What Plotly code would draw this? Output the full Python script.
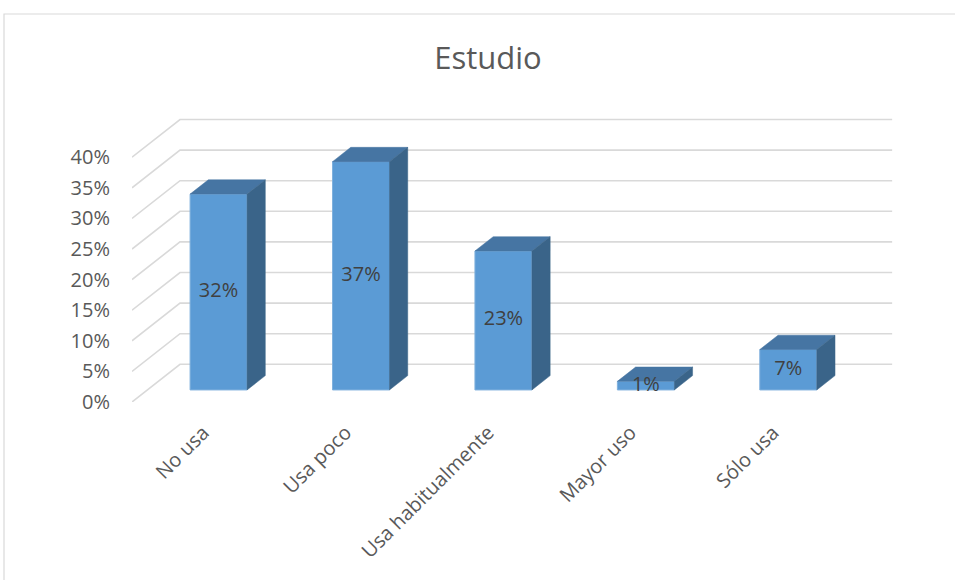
import plotly.graph_objects as go

# ---- data ----
categories = ["No usa", "Usa poco", "Usa habitualmente", "Mayor uso", "Sólo usa"]
values = [0.32, 0.373, 0.227, 0.014, 0.066]
y_ticks = [0, 0.05, 0.10, 0.15, 0.20, 0.25, 0.30, 0.35, 0.40]
y_tick_labels = ["0%", "5%", "10%", "15%", "20%", "25%", "30%", "35%", "40%"]
title_text = "Estudio"

# ---- pseudo-3D projection parameters (axis units) ----
DX = 0.337   # depth shift in x (category units) for full depth
DY = 0.0616  # depth shift in y (value units) for full depth
D0, D1 = 0.32, 0.70   # bar front / back depth fraction
BW = 0.40             # bar width (category units)

FONT = "Open Sans"
FRONT = "#5B9BD5"
TOP = "#4675A3"
SIDE = "#3A6489"
GRID = "#D9D9D9"

fig = go.Figure()

# back wall + side wall gridlines
gx, gy = [], []
x_left = -0.5
x_right = len(categories) - 0.5
for v in y_ticks:
    gx += [x_left, x_left + DX, x_right + DX, None]
    gy += [v, v + DY, v + DY, None]
fig.add_trace(go.Scatter(x=gx, y=gy, mode="lines",
                         line=dict(color=GRID, width=1.6),
                         hoverinfo="skip", showlegend=False))

ddx = (D1 - D0) * DX
ddy = (D1 - D0) * DY
label_x, label_y, label_t = [], [], []
for i, v in enumerate(values):
    xc = i + D0 * DX
    b0 = D0 * DY
    xl, xr = xc - BW / 2, xc + BW / 2
    # front face
    fig.add_trace(go.Scatter(
        x=[xl, xl, xr, xr, xl],
        y=[b0, b0 + v, b0 + v, b0, b0],
        mode="lines", fill="toself", fillcolor=FRONT,
        line=dict(color="#7FB0DD", width=1), hoverinfo="skip", showlegend=False))
    # top face
    fig.add_trace(go.Scatter(
        x=[xl, xl + ddx, xr + ddx, xr, xl],
        y=[b0 + v, b0 + v + ddy, b0 + v + ddy, b0 + v, b0 + v],
        mode="lines", fill="toself", fillcolor=TOP,
        line=dict(color=TOP, width=0.5), hoverinfo="skip", showlegend=False))
    # side face
    fig.add_trace(go.Scatter(
        x=[xr, xr, xr + ddx, xr + ddx, xr],
        y=[b0, b0 + v, b0 + v + ddy, b0 + ddy, b0],
        mode="lines", fill="toself", fillcolor=SIDE,
        line=dict(color=SIDE, width=0.5), hoverinfo="skip", showlegend=False))
    label_x.append(xc)
    label_y.append(b0 + v / 2)
    label_t.append(f"{round(v * 100)}%")

fig.add_trace(go.Scatter(x=label_x, y=label_y, text=label_t, mode="text",
                         textfont=dict(family=FONT, size=20, color="#404040"),
                         hoverinfo="skip", showlegend=False))

fig.update_layout(
    width=955, height=580,
    margin=dict(l=132, r=61, t=96, b=178),
    paper_bgcolor="white", plot_bgcolor="rgba(0,0,0,0)",
    title=dict(text=title_text, x=488 / 955, xref="container", xanchor="center",
               y=1 - 58 / 580, yref="container", yanchor="middle",
               font=dict(family=FONT, size=31, color="#595959")),
    xaxis=dict(range=[-0.5, 4.85], tickvals=list(range(len(categories))),
               ticktext=categories, tickangle=-45, showgrid=False, zeroline=False,
               showline=False, ticks="outside", ticklen=10, tickcolor="rgba(0,0,0,0)",
               tickfont=dict(family=FONT, size=20, color="#595959"), fixedrange=True),
    yaxis=dict(range=[0, 0.5], tickvals=y_ticks, ticktext=y_tick_labels,
               showgrid=False, zeroline=False, showline=False,
               ticks="outside", ticklen=17, tickcolor="rgba(0,0,0,0)",
               tickfont=dict(family=FONT, size=20, color="#595959"), fixedrange=True),
    shapes=[dict(type="rect", xref="paper", yref="paper",
                 x0=(4 - 132) / 762, x1=(960 - 132) / 762,
                 y0=(402 - 590) / 306, y1=(402 - 14) / 306,
                 line=dict(color=GRID, width=1.2), fillcolor="rgba(0,0,0,0)", layer="below")],
)

fig.write_html("out.html", config={"displayModeBar": False},
               post_script="document.body.style.margin='0';")
